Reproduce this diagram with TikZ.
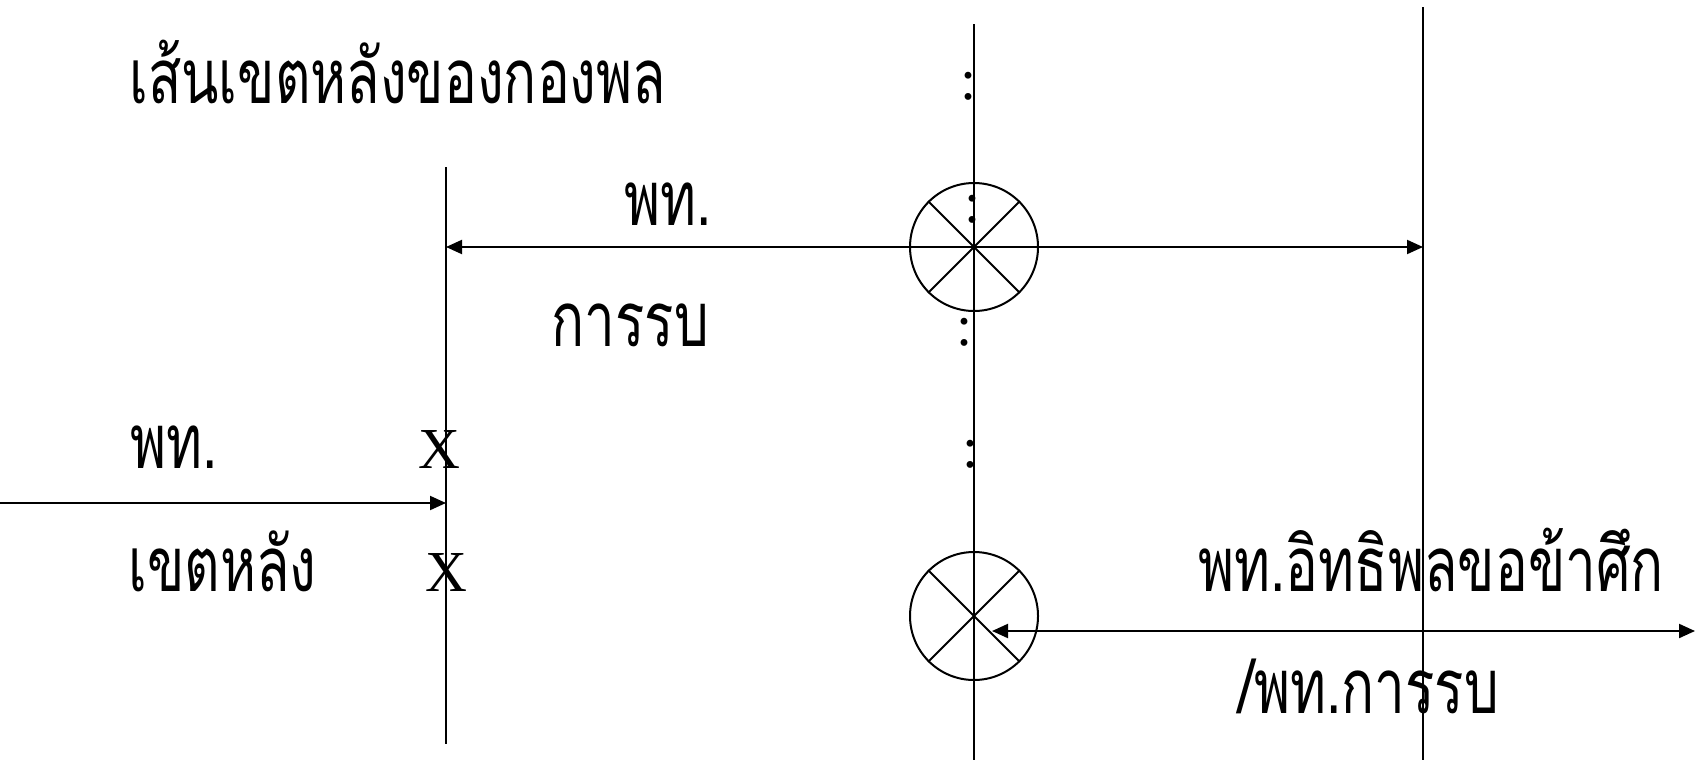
\documentclass[tikz,border=0pt]{standalone}
\usepackage{fontspec}
\setmainfont{Liberation Serif}
\newfontfamily\thaifont[Script=Thai,FakeStretch=0.72]{Loma}
\usetikzlibrary{arrows.meta,calc}
\tikzset{
  dgLine/.style={
    line width=1pt,
    draw=black
  },
  dgArrow/.style={
    dgLine,
    -{Triangle[length=8pt,width=7pt]}
  },
  dgArrowBoth/.style={
    dgLine,
    {Triangle[length=8pt,width=7pt]}-{Triangle[length=8pt,width=7pt]}
  },
  dgCircle/.style={
    circle,
    draw,
    line width=1pt,
    minimum size=64pt,
    inner sep=0pt
  },
  dgThai/.style={
    anchor=base west,
    inner sep=0pt,
    font=\thaifont\fontsize{38pt}{44pt}\selectfont
  },
  dgMark/.style={
    anchor=base west,
    inner sep=0pt,
    font=\fontsize{29pt}{34pt}\selectfont
  },
  dgDots/.style={
    anchor=base,
    inner sep=0pt,
    font=\fontsize{29pt}{34pt}\selectfont
  }
}
\begin{document}
\begin{tikzpicture}[x=0.5pt, y=-0.5pt]
        \useasboundingbox (0,0) rectangle (1695,760);

        % boundary lines
        \coordinate (lTop) at (446,167);
        \coordinate (lBot) at (446,744);
        \coordinate (mTop) at (974,24);
        \coordinate (mBot) at (974,760);
        \coordinate (rTop) at (1423,7);
        \coordinate (rBot) at (1423,760);
        \draw [dgLine] (lTop) -- (lBot);
        \draw [dgLine] (mTop) -- (mBot);
        \draw [dgLine] (rTop) -- (rBot);

        % crossed circles
        \node (cTop) [dgCircle] at (974,247) {};
        \node (cBot) [dgCircle] at (974,616) {};
        \draw [dgLine] (cTop.45) -- (cTop.225);
        \draw [dgLine] (cTop.135) -- (cTop.315);
        \draw [dgLine] (cBot.45) -- (cBot.225);
        \draw [dgLine] (cBot.135) -- (cBot.315);

        % arrows
        \coordinate (aIn) at (0,503);
        \coordinate (bArrowL) at (992,631);
        \coordinate (bArrowR) at (1695,631);
        \draw [dgArrowBoth] (lTop |- cTop) -- (rTop |- cTop);
        \draw [dgArrow] (aIn) -- (lTop |- aIn);
        \draw [dgArrowBoth] (bArrowL) -- (bArrowR);

        % labels
        \node (tTitle) [dgThai] at (129,103) {เส้นเขตหลังของกองพล};
        \node (tZoneTop) [dgThai] at (624,225) {พท.};
        \node (tZoneBot) [dgThai] at (551,346) {การรบ};
        \node (tRearTop) [dgThai] at (130,468) {พท.};
        \node (tRearBot) [dgThai] at (128,591) {เขตหลัง};
        \node (tEnemyTop) [dgThai] at (1198,591) {พท.อิทธิพลขอข้าศึก};
        \node (tEnemyBot) [dgThai] at (1238,713) {/พท.การรบ};
        \node (tMarkTop) [dgMark] at (418,468) {X};
        \node (tMarkBot) [dgMark] at (425,591) {X};

        % dotted marks on the centre line
        \node (d1) [dgDots] at (969,99) {:};
        \node (d2) [dgDots] at (973,222) {:};
        \node (d3) [dgDots] at (965,345) {:};
        \node (d4) [dgDots] at (971,467) {:};
      \end{tikzpicture}
\end{document}
